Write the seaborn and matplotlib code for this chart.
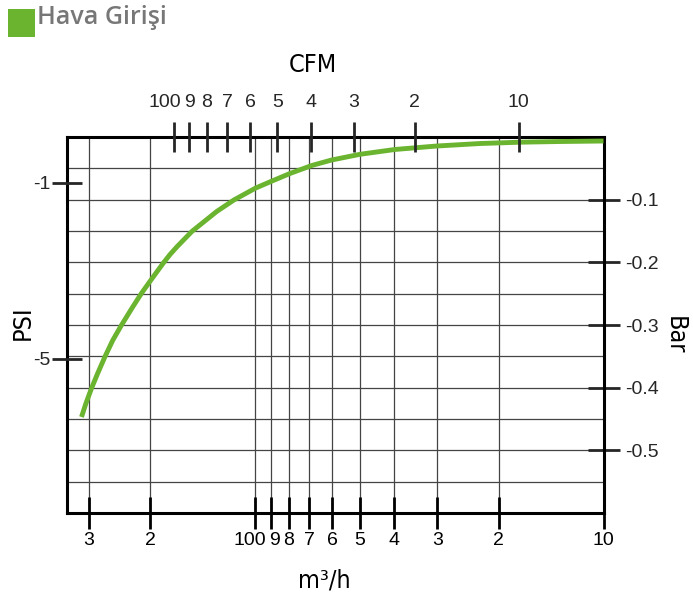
import numpy as np
import pandas as pd
import matplotlib
matplotlib.use("Agg")
import matplotlib.pyplot as plt
import matplotlib.transforms as mtransforms
import seaborn as sns
from matplotlib.ticker import FixedLocator, FixedFormatter, MultipleLocator
from matplotlib.patches import Rectangle

# ---- data ----
flow_m3h = [315.3, 306.1, 295.1, 283.3, 270.0, 256.6, 242.9, 226.2, 212.1, 199.2,
            183.3, 175.6, 167.7, 151.9, 129.0, 115.1, 99.67, 88.73, 79.45, 68.84,
            60.31, 50.02, 39.69, 30.13, 22.62, 17.37, 13.33, 10.0]
pressure_bar = [-0.4468, -0.4249, -0.4010, -0.3771, -0.3506, -0.3247, -0.3016, -0.2737, -0.2494, -0.2282,
                -0.2006, -0.1875, -0.1751, -0.1506, -0.1189, -0.1005, -0.0814, -0.0694, -0.0582, -0.0455,
                -0.0367, -0.0276, -0.0199, -0.0144, -0.0104, -0.0083, -0.0072, -0.0064]

m3h_ticks = [300, 200, 100, 90, 80, 70, 60, 50, 40, 30, 20, 10]
m3h_labels = ['3', '2', '100', '9', '8', '7', '6', '5', '4', '3', '2', '10']
cfm_ticks = [100, 90, 80, 70, 60, 50, 40, 30, 20, 10]
cfm_labels = ['100', '9', '8', '7', '6', '5', '4', '3', '2', '10']
bar_ticks = [-0.1, -0.2, -0.3, -0.4, -0.5]
bar_labels = ['-0.1', '-0.2', '-0.3', '-0.4', '-0.5']
psi_ticks = [-1, -5]
psi_labels = ['-1', '-5']

title = "Hava Girişi"
GREEN = "#6ab42f"

sns.set_style("white")
plt.rcParams['font.family'] = ['Liberation Sans', 'DejaVu Sans']

W, H = 693, 595
fig = plt.figure(figsize=(W / 100, H / 100), dpi=100)
L, R, T, B = 67, 603.5, 137, 513
ax = fig.add_axes([L / W, 1 - B / H, (R - L) / W, (B - T) / H])

ax.set_xscale('log')
ax.set_xlim(347.0, 10.0)
ax.set_ylim(-0.6, 0.0)

df = pd.DataFrame({'flow': flow_m3h, 'bar': pressure_bar})
sns.lineplot(data=df, x='flow', y='bar', ax=ax, color=GREEN, linewidth=3.5,
             sort=False, estimator=None, solid_capstyle='butt', solid_joinstyle='round', zorder=5)
ax.set_xlabel('')
ax.set_ylabel('')

# left axis (PSI) -- twin first, since twinx moves the parent ticks to the left
axp = ax.twinx()
axp.set_ylim(-8.5, 0.04)

# bottom axis (m3/h)
ax.xaxis.set_major_locator(FixedLocator(m3h_ticks))
ax.xaxis.set_major_formatter(FixedFormatter(m3h_labels))
ax.xaxis.set_minor_locator(FixedLocator([]))
ax.tick_params(axis='x', which='major', direction='inout', length=23, width=2,
               bottom=True, top=False, labelsize=14, pad=2, colors='black')

# right axis (bar)
ax.yaxis.tick_right()
ax.yaxis.set_major_locator(FixedLocator(bar_ticks))
ax.yaxis.set_major_formatter(FixedFormatter(bar_labels))
ax.yaxis.set_minor_locator(MultipleLocator(0.05))
ax.tick_params(axis='y', which='major', direction='inout', length=23, width=2,
               left=False, right=True, labelleft=False, labelright=True, labelsize=14, pad=4)
ax.tick_params(axis='y', which='minor', length=0)

ax.grid(True, axis='x', which='major', color='#444444', linewidth=0.9)
ax.grid(True, axis='y', which='both', color='#444444', linewidth=0.9)
ax.set_axisbelow(True)

for s in ax.spines.values():
    s.set_color('black')
    s.set_linewidth(2.2)
    s.set_visible(True)

axp.yaxis.tick_left()
axp.yaxis.set_major_locator(FixedLocator(psi_ticks))
axp.yaxis.set_major_formatter(FixedFormatter(psi_labels))
axp.tick_params(axis='y', direction='inout', length=21.5, width=2, left=True, right=False,
                labelleft=True, labelright=False, labelsize=14, pad=1)
for s in axp.spines.values():
    s.set_visible(False)

# top axis (CFM)
axt = ax.twiny()
axt.set_xscale('log')
axt.set_xlim(203.7, 5.675)
axt.xaxis.set_major_locator(FixedLocator(cfm_ticks))
axt.xaxis.set_major_formatter(FixedFormatter(cfm_labels))
axt.xaxis.set_minor_locator(FixedLocator([]))
axt.tick_params(axis='x', direction='inout', length=21.5, width=2, top=True, bottom=False,
                labeltop=True, labelbottom=False, labelsize=14, pad=8)
for s in axt.spines.values():
    s.set_visible(False)

# nudge the crowded "100" / "9" labels apart slightly, as in the reference
def nudge(label, dx_px):
    label.set_transform(label.get_transform() +
                        mtransforms.ScaledTranslation(dx_px / 100, 0, fig.dpi_scale_trans))

nudge(axt.get_xticklabels()[0], -9)
bottom_labels = ax.get_xticklabels()
nudge(bottom_labels[2], -5)
nudge(bottom_labels[3], 3)

# axis titles
lab_kw = dict(fontsize=18, color='black', family=['Liberation Sans Narrow', 'DejaVu Sans'],
              fontstretch='condensed', ha='center', va='center')
fig.text(313 / W, 1 - 65 / H, 'CFM', **lab_kw)
fig.text(324 / W, 1 - 580 / H, 'm³/h', **lab_kw)
fig.text(23 / W, 1 - 323 / H, 'PSI', rotation=90, **lab_kw)
fig.text(675 / W, 1 - 335 / H, 'Bar', rotation=-90, **lab_kw)

# header
fig.patches.append(Rectangle((8 / W, 1 - 37 / H), 27 / W, 28 / H, transform=fig.transFigure,
                             facecolor=GREEN, edgecolor='none'))
fig.text(37 / W, 1 - 17 / H, title, fontsize=18, color='#777777', fontweight='semibold',
         family=['Open Sans', 'DejaVu Sans'], ha='left', va='center')

fig.savefig('out.png', dpi=100)
